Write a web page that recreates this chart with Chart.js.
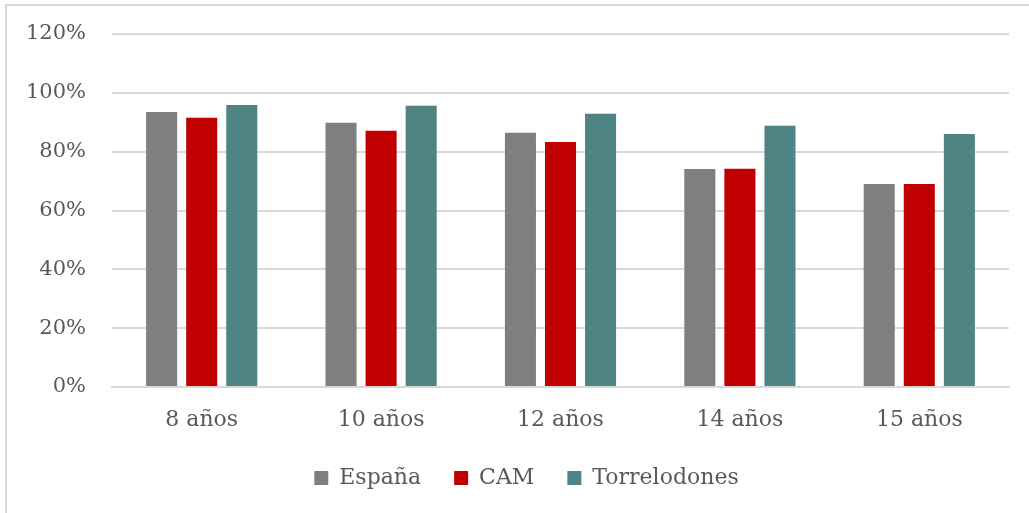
<!DOCTYPE html>
<html>
<head>
<meta charset="utf-8">
<script src="https://cdn.jsdelivr.net/npm/chart.js@4"></script>
<style>
  html, body { margin: 0; padding: 0; background: #fff; }
  #wrap { position: relative; width: 1029px; height: 513px; }
  #frame { position: absolute; left: 5px; top: 4px; right: -10px; bottom: -10px;
           border-top: 2px solid #d9d9d9; border-left: 2px solid #d9d9d9; }
  canvas { position: absolute; left: 0; top: 0; }
</style>
</head>
<body>
<div id="wrap">
  <div id="frame"></div>
  <canvas id="chart" width="1029" height="513"></canvas>
</div>
<script>
  const categories = ['8 años', '10 años', '12 años', '14 años', '15 años'];
  const espana = [0.935, 0.898, 0.864, 0.741, 0.690];
  const cam = [0.915, 0.871, 0.833, 0.742, 0.690];
  const torrelodones = [0.959, 0.956, 0.929, 0.888, 0.860];
  const yTicks = [0, 0.2, 0.4, 0.6, 0.8, 1.0, 1.2];

  const textColor = '#595959';
  const fontFamily = '"DejaVu Serif", serif';
  const legendGap = '\u00A0\u00A0\u00A0';

  function series(label, data, color) {
    return {
      label,
      data,
      backgroundColor: color,
      borderWidth: 0,
      categoryPercentage: 0.67,
      barPercentage: 0.775
    };
  }

  // the legend in the original sits a little right of centre
  const legendShift = {
    id: 'legendShift',
    afterLayout(chart) {
      if (chart.legend) chart.legend.left += 44;
    }
  };

  new Chart(document.getElementById('chart'), {
    type: 'bar',
    data: {
      labels: categories,
      datasets: [
        series('España', espana, '#7f7f7f'),
        series('CAM', cam, '#c00000'),
        series('Torrelodones', torrelodones, '#4e8584')
      ]
    },
    plugins: [legendShift],
    options: {
      responsive: false,
      animation: false,
      layout: { padding: { top: 34, right: 20, bottom: 14, left: 0 } },
      plugins: {
        tooltip: { enabled: false },
        legend: {
          position: 'bottom',
          labels: {
            color: textColor,
            font: { family: fontFamily, size: 22 },
            boxWidth: 14,
            boxHeight: 14,
            padding: 12,
            generateLabels(chart) {
              const items = Chart.defaults.plugins.legend.labels.generateLabels(chart);
              items.forEach((item, i) => {
                if (i < items.length - 1) item.text += legendGap;
              });
              return items;
            }
          }
        }
      },
      scales: {
        x: {
          grid: { display: false, drawTicks: false },
          border: { color: '#d9d9d9', width: 2 },
          afterFit(scale) {
            scale.height = 68;
          },
          ticks: {
            color: textColor,
            font: { family: fontFamily, size: 22 },
            padding: 20
          }
        },
        y: {
          min: 0,
          max: 1.2,
          afterBuildTicks(scale) {
            scale.ticks = yTicks.map(v => ({ value: v }));
          },
          afterFit(scale) {
            scale.width = 112;
            scale.paddingTop = 0;
            scale.paddingBottom = 0;
          },
          grid: { color: '#d9d9d9', lineWidth: 2, drawTicks: false },
          border: { display: false },
          ticks: {
            color: textColor,
            font: { family: fontFamily, size: 21 },
            padding: 26,
            callback: v => Math.round(v * 100) + '%'
          }
        }
      }
    }
  });
</script>
</body>
</html>
